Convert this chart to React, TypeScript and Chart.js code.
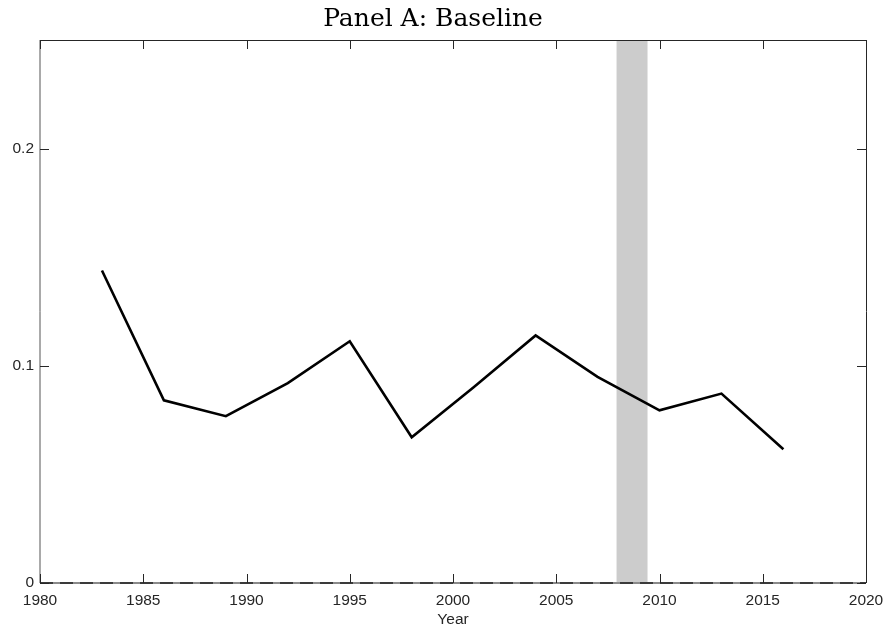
import React, { useEffect, useRef } from "react";
import { Chart, registerables } from "chart.js";

Chart.register(...registerables);

const years = [1983, 1986, 1989, 1992, 1995, 1998, 2001, 2004, 2007, 2010, 2013, 2016];
const values = [0.1439, 0.0841, 0.0768, 0.092, 0.1113, 0.0671, 0.0901, 0.114, 0.0949, 0.0795, 0.0872, 0.0616];
const xTicks = [1980, 1985, 1990, 1995, 2000, 2005, 2010, 2015, 2020];
const yTicks = [0, 0.1, 0.2];
const recession = [2007.92, 2009.42];
const titleText = "Panel A: Baseline";
const xLabel = "Year";

const framePlugin = {
  id: "frame",
  beforeDatasetsDraw(chart: any) {
    const { ctx, chartArea: a, scales } = chart;
    const x = scales.x;
    const x0 = x.getPixelForValue(recession[0]);
    const x1 = x.getPixelForValue(recession[1]);
    ctx.save();
    ctx.fillStyle = "#cccccc";
    ctx.fillRect(x0, a.top, x1 - x0, a.bottom - a.top);
    ctx.restore();
  },
  afterDatasetsDraw(chart: any) {
    const { ctx, chartArea: a, scales } = chart;
    const x = scales.x;
    const y = scales.y;
    ctx.save();
    ctx.lineWidth = 1;
    ctx.strokeStyle = "#262626";
    ctx.beginPath();
    ctx.moveTo(a.left, a.top + 0.5);
    ctx.lineTo(a.right, a.top + 0.5);
    ctx.moveTo(a.right + 0.5, a.top);
    ctx.lineTo(a.right + 0.5, a.bottom);
    ctx.stroke();
    ctx.strokeStyle = "#555555";
    ctx.beginPath();
    ctx.moveTo(a.left, a.top);
    ctx.lineTo(a.left, a.bottom);
    ctx.stroke();
    // bottom axis + dashed zero line
    ctx.lineWidth = 2;
    ctx.strokeStyle = "#8a8a8a";
    const yz = Math.round(y.getPixelForValue(0));
    ctx.beginPath();
    ctx.moveTo(a.left, yz);
    ctx.lineTo(a.right, yz);
    ctx.stroke();
    ctx.strokeStyle = "#3a3a3a";
    ctx.setLineDash([13, 7]);
    ctx.beginPath();
    ctx.moveTo(a.left, yz);
    ctx.lineTo(a.right, yz);
    ctx.stroke();
    ctx.setLineDash([]);
    // ticks
    ctx.lineWidth = 1;
    ctx.strokeStyle = "#262626";
    const tl = 9;
    ctx.beginPath();
    xTicks.forEach((v) => {
      const px = Math.round(x.getPixelForValue(v)) + 0.5;
      ctx.moveTo(px, a.bottom);
      ctx.lineTo(px, a.bottom - tl);
      ctx.moveTo(px, a.top);
      ctx.lineTo(px, a.top + tl);
    });
    yTicks.forEach((v) => {
      const py = Math.round(y.getPixelForValue(v)) + 0.5;
      ctx.moveTo(a.left, py);
      ctx.lineTo(a.left + tl, py);
      ctx.moveTo(a.right, py);
      ctx.lineTo(a.right - tl, py);
    });
    ctx.stroke();
    ctx.restore();
  },
};

export default function App() {
  const ref = useRef<HTMLCanvasElement>(null);
  useEffect(() => {
    document.body.style.margin = "0";
    const chart = new Chart(ref.current!, {
      type: "line",
      data: {
        datasets: [
          {
            data: years.map((yr, i) => ({ x: yr, y: values[i] })),
            borderColor: "#000000",
            borderWidth: 2.6,
            pointRadius: 0,
            tension: 0,
            fill: false,
          },
        ],
      },
      options: {
        animation: false,
        responsive: false,
        maintainAspectRatio: false,
        layout: { padding: { left: 0, right: 21, top: 0, bottom: 0 } },
        plugins: {
          legend: { display: false },
          tooltip: { enabled: false },
          title: {
            display: true,
            text: titleText,
            color: "#000000",
            font: { family: "'DejaVu Serif', serif", size: 25, weight: "normal", lineHeight: 1.2 },
            padding: { top: 4, bottom: 6 },
          },
        },
        scales: {
          x: {
            type: "linear",
            min: 1980,
            max: 2020,
            afterBuildTicks: (axis: any) => {
              axis.ticks = xTicks.map((v) => ({ value: v }));
            },
            afterFit: (axis: any) => {
              axis.height = 50;
              axis.paddingLeft = 0;
              axis.paddingRight = 0;
            },
            grid: { display: false, drawTicks: false },
            border: { display: false },
            ticks: {
              color: "#262626",
              font: { family: "'Liberation Sans', Arial, sans-serif", size: 15.5 },
              padding: 8,
              maxRotation: 0,
              autoSkip: false,
              callback: (v: any) => String(v),
            },
            title: {
              display: true,
              text: xLabel,
              color: "#262626",
              font: { family: "'Liberation Sans', Arial, sans-serif", size: 15.5 },
              padding: { top: 0, bottom: 4 },
            },
          },
          y: {
            type: "linear",
            min: 0,
            max: 0.25,
            afterBuildTicks: (axis: any) => {
              axis.ticks = yTicks.map((v) => ({ value: v }));
            },
            afterFit: (axis: any) => {
              axis.width = 40;
              axis.paddingTop = 0;
              axis.paddingBottom = 0;
            },
            grid: { display: false, drawTicks: false },
            border: { display: false },
            ticks: {
              color: "#262626",
              font: { family: "'Liberation Sans', Arial, sans-serif", size: 15.5 },
              padding: 6,
              callback: (v: any) => String(v),
            },
          },
        },
      },
      plugins: [framePlugin],
    });
    return () => chart.destroy();
  }, []);
  return (
    <div style={{ position: "absolute", left: 0, top: 0, width: 887, height: 633, background: "#fff" }}>
      <canvas ref={ref} width={887} height={633} style={{ width: 887, height: 633 }} />
    </div>
  );
}
